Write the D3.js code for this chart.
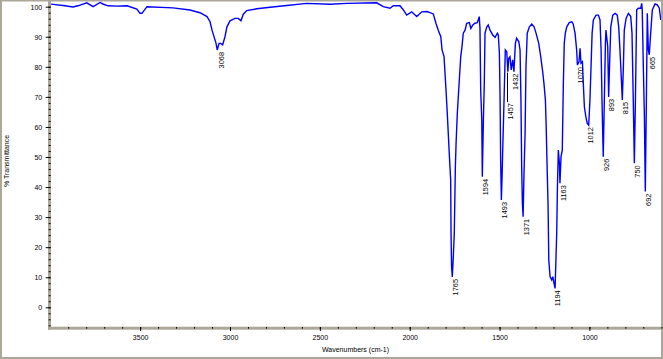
<!DOCTYPE html>
<html>
<head>
<meta charset="utf-8">
<script src="https://cdn.jsdelivr.net/npm/d3@7"></script>
<style>
  body { margin: 0; background: #fff; }
  svg { display: block; }
  text { font-family: "Liberation Sans", Arial, sans-serif; fill: #000; }
  .peak { font-size: 7.4px; }
</style>
</head>
<body>
<svg width="663" height="359"></svg>
<script>
// IR spectrum: wavenumber (cm-1) and % transmittance
var wavenumbers = [4000,3918,3874,3846,3797,3762,3723,3707,3679,3629,3573,3518,3501,3490,3462,3317,3223,3167,3128,3111,
  3100,3095,3078,3071,3061,3052,3041,3028,3017,3000,2972,2954,2939,2926,2907,2851,2777,2684,2573,2443,
  2351,2184,2147,2110,2091,2054,2036,2017,1989,1961,1933,1905,1887,1869,1854,1841,1827,1820,1809,1798,
  1791,1780,1772,1770,1767,1763,1757,1752,1746,1742,1735,1724,1716,1709,1702,1692,1683,1668,1660,1649,
  1637,1624,1613,1609,1605,1599,1596,1590,1585,1581,1571,1563,1553,1538,1525,1512,1507,1501,1497,1494,
  1490,1486,1482,1475,1468,1460,1454,1449,1442,1435,1427,1420,1412,1405,1393,1386,1381,1377,1373,1369,
  1364,1358,1353,1346,1334,1321,1308,1297,1282,1271,1260,1253,1245,1241,1238,1234,1230,1226,1219,1210,
  1204,1197,1191,1182,1178,1173,1167,1164,1158,1151,1145,1140,1134,1126,1112,1098,1090,1080,1071,1067,
  1058,1052,1047,1039,1034,1028,1020,1012,1004,997,991,985,978,963,950,941,935,930,926,923,
  917,911,908,902,898,893,887,881,870,857,845,837,830,822,817,811,806,796,783,770,
  763,756,750,744,737,728,714,709,706,700,694,689,683,678,672,667,659,650,635,622,
  611,603];
var transmittance = [100.9,100.3,99.9,100.3,101.3,100,101.4,100.9,100.3,100.2,100.3,99.2,97.8,97.8,100,99.6,98.9,98,96.7,95,
  92.2,91.2,87.9,85.6,87.8,87.8,87.3,90,93.3,95.3,96.1,96.1,95.3,97.5,98.7,99.3,99.8,100.4,101.1,100.8,
  101.1,101.3,100,99.5,100.3,100.3,99,97.2,98.3,96.7,98.3,98.4,98,97.6,94.5,92.2,90,85.6,83.4,72.3,
  64.6,51.3,42.3,24.6,13.5,10.1,17.4,24.6,46.7,54.6,64.6,75.6,83.4,86.7,91.2,92.2,94.5,94.7,92.8,93.9,
  94.5,94.7,96.7,92.8,72.3,62.3,43.4,62.3,74.6,91.2,93.3,93.9,92.2,90.6,89.8,91.2,90.6,84.5,69,49,
  35.7,43.4,53.4,69,85.6,85,78.4,82.8,83.4,79,82.3,78.4,87.8,89.5,88.4,85.6,69,46.8,34.6,30.1,
  44.6,57.9,80,91.2,93.3,94.2,93.3,91.2,87.8,83.4,78.4,74.5,69,61.2,53.4,43.4,33.5,15.7,10.2,9.1,
  10.2,8,6.3,24.6,40.1,52.3,47.9,41.3,50.1,52.3,74.5,87.8,91.2,93.3,94.7,95,94.2,91.2,85.6,80.6,
  81.7,86.2,81.2,81.7,74.5,66.7,63.4,61.2,60.6,69,80,91.2,95.6,97.2,97.2,95.6,85.6,69,57.9,50.1,
  69,87.8,92.2,88.9,86.7,70,82.3,93.3,97.2,97.8,97.2,93.3,85.6,75.6,69,80,92.2,96.1,97.8,96.7,
  91.2,69,47.9,69,98.9,99.5,99.5,101.1,98.9,80,63.4,38.5,69,97.8,85.6,84,91.2,98.9,100.9,100.6,
  99.5,95.6];

// labelled peaks
var peakWavenumbers = [3068,1765,1594,1493,1457,1432,1371,1194,1163,1070,1012,926,893,815,750,692,665];
var peakTransmittance = [85.6,10.1,43.4,35.7,78.4,78.4,30.1,6.3,41.3,80.6,60.6,50.1,70,69,47.9,38.5,84];
// where the label starts (lower than the peak when it had to be moved)
var peakLabelLevel = [85.6,10.1,43.4,35.7,68.6,78.4,30.1,6.3,41.3,80.6,60.6,50.1,70,69,47.9,38.5,84];

var yMajorTicks = [0,10,20,30,40,50,60,70,80,90,100];
var xMajorTicks = [3500,3000,2500,2000,1500,1000];

var svg = d3.select("svg");
var axisColor = "#aca899";

var x = d3.scaleLinear().domain([4000, 600]).range([50.3, 661.3]);
var y = d3.scaleLinear().domain([0, 100]).range([307.3, 6.7]);

// outer frame
svg.append("rect").attr("x", 0).attr("y", 0).attr("width", 2).attr("height", 359).attr("fill", axisColor);
svg.append("rect").attr("x", 661).attr("y", 0).attr("width", 2).attr("height", 359).attr("fill", axisColor);
svg.append("rect").attr("x", 0).attr("y", 357).attr("width", 663).attr("height", 2).attr("fill", axisColor);
svg.append("rect").attr("x", 0).attr("y", 0).attr("width", 663).attr("height", 1.5).attr("fill", axisColor);

// axis bars
svg.append("rect").attr("x", 48).attr("y", 0).attr("width", 3).attr("height", 329.7).attr("fill", axisColor);
svg.append("rect").attr("x", 48).attr("y", 326.7).attr("width", 613).attr("height", 3).attr("fill", axisColor);

// y axis
var yMinor = svg.append("g").attr("transform", "translate(50.7,0)")
  .call(d3.axisLeft(y).tickValues(d3.range(-6, 101, 2)).tickSize(2).tickFormat(""));
yMinor.select(".domain").remove();

var yMajor = svg.append("g").attr("transform", "translate(50.7,0)")
  .call(d3.axisLeft(y).tickValues(yMajorTicks).tickSize(5).tickPadding(3.5));
yMajor.select(".domain").remove();
yMajor.selectAll("text").style("font-size", "7px").attr("dy", "0.34em");

// x axis
var xMinor = svg.append("g").attr("transform", "translate(0,327)")
  .call(d3.axisBottom(x).tickValues(d3.range(3900, 599, -100)).tickSize(1.7).tickFormat(""));
xMinor.select(".domain").remove();

var xMajor = svg.append("g").attr("transform", "translate(0,327)")
  .call(d3.axisBottom(x).tickValues(xMajorTicks).tickSize(4).tickFormat(d3.format("d")));
xMajor.select(".domain").remove();
xMajor.selectAll("text").style("font-size", "7px").attr("y", 12.5).attr("dy", 0);

svg.selectAll(".tick line").attr("stroke", "#000");

// axis titles
svg.append("text").attr("x", 355.5).attr("y", 352).attr("text-anchor", "middle")
  .style("font-size", "7px").text("Wavenumbers (cm-1)");
svg.append("text").attr("transform", "translate(8.5,161) rotate(-90)").attr("text-anchor", "middle")
  .style("font-size", "7px").text("% Transmittance");

// spectrum
svg.append("clipPath").attr("id", "plotClip").append("rect")
  .attr("x", 51).attr("y", 1.5).attr("width", 610).attr("height", 325.2);

var spectrum = wavenumbers.map(function (w, i) { return [w, transmittance[i]]; });
var line = d3.line().x(function (d) { return x(d[0]); }).y(function (d) { return y(d[1]); });

svg.append("path")
  .datum(spectrum)
  .attr("clip-path", "url(#plotClip)")
  .attr("fill", "none")
  .attr("stroke", "#0000ff")
  .attr("stroke-width", 1.4)
  .attr("d", line);

// peak labels
var peaks = peakWavenumbers.map(function (w, i) {
  return { w: w, t: peakTransmittance[i], lt: peakLabelLevel[i] };
});

var pk = svg.append("g").selectAll("g").data(peaks).enter().append("g");

pk.filter(function (d) { return d.lt < d.t; })
  .append("line")
  .attr("x1", function (d) { return Math.round(x(d.w)) + 0.5; })
  .attr("x2", function (d) { return Math.round(x(d.w)) + 0.5; })
  .attr("y1", function (d) { return y(d.t) + 1; })
  .attr("y2", function (d) { return y(d.lt) + 1; })
  .attr("stroke", "#000")
  .attr("stroke-width", 1);

pk.append("text")
  .attr("class", "peak")
  .attr("text-anchor", "end")
  .attr("transform", function (d) {
    return "translate(" + (x(d.w) + 5.8) + "," + (y(d.lt) + 2) + ") rotate(-90)";
  })
  .text(function (d) { return d.w; });
</script>
</body>
</html>
